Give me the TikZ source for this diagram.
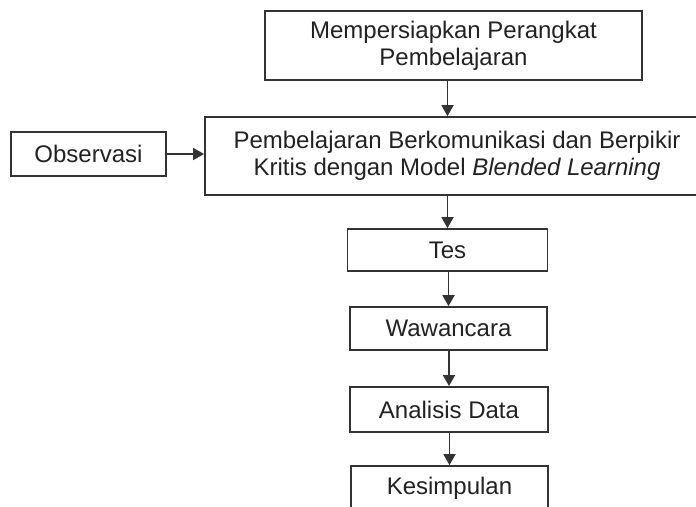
\documentclass[tikz,border=0pt]{standalone}
\usepackage{fontspec}
\setmainfont{Liberation Sans}
\usetikzlibrary{arrows.meta}
\definecolor{linegray}{HTML}{333333}
\definecolor{textgray}{HTML}{222222}
\begin{document}
\begin{tikzpicture}[x=1pt,y=-1pt,
  box/.style={draw=linegray, line width=1.8pt, fill=white, text=textgray,
    font=\fontsize{24}{27}\selectfont, align=center, inner sep=0pt},
  arr/.style={draw=linegray, line width=1.8pt, -{Triangle[width=12pt,length=11pt]}}]
\useasboundingbox (0,0) rectangle (696,506);
\clip (0,0) rectangle (696,506);
\fill[white] (0,0) rectangle (696,506);
\node[box, minimum width=377pt, minimum height=69pt] (prep) at (453.5,45.5) {Mempersiapkan Perangkat\\Pembelajaran};
\node[box, minimum width=504pt, minimum height=78pt] (learn) at (457,156) {Pembelajaran Berkomunikasi dan Berpikir\\Kritis dengan Model \textit{Blended Learning}};
\node[box, minimum width=155pt, minimum height=44pt] (obs) at (88.5,154) {Observasi};
\node[box, minimum width=200pt, minimum height=42pt] (tes) at (447.5,250) {Tes};
\node[box, minimum width=197pt, minimum height=43pt] (waw) at (448.5,328.5) {Wawancara};
\node[box, minimum width=198pt, minimum height=45pt] (ana) at (449,409.5) {Analisis Data};
\node[box, minimum width=197pt, minimum height=45pt] (kes) at (449.5,488.5) {Kesimpulan};
\draw[arr] (prep.south -| tes.north) -- (learn.north -| tes.north);
\draw[arr] (tes.north |- learn.south) -- (tes.north);
\draw[arr] (waw.north |- tes.south) -- (waw.north);
\draw[arr] (ana.north |- waw.south) -- (ana.north);
\draw[arr] (kes.north |- ana.south) -- (kes.north);
\draw[arr] (obs.east) -- (learn.west |- obs.east);
\end{tikzpicture}
\end{document}
